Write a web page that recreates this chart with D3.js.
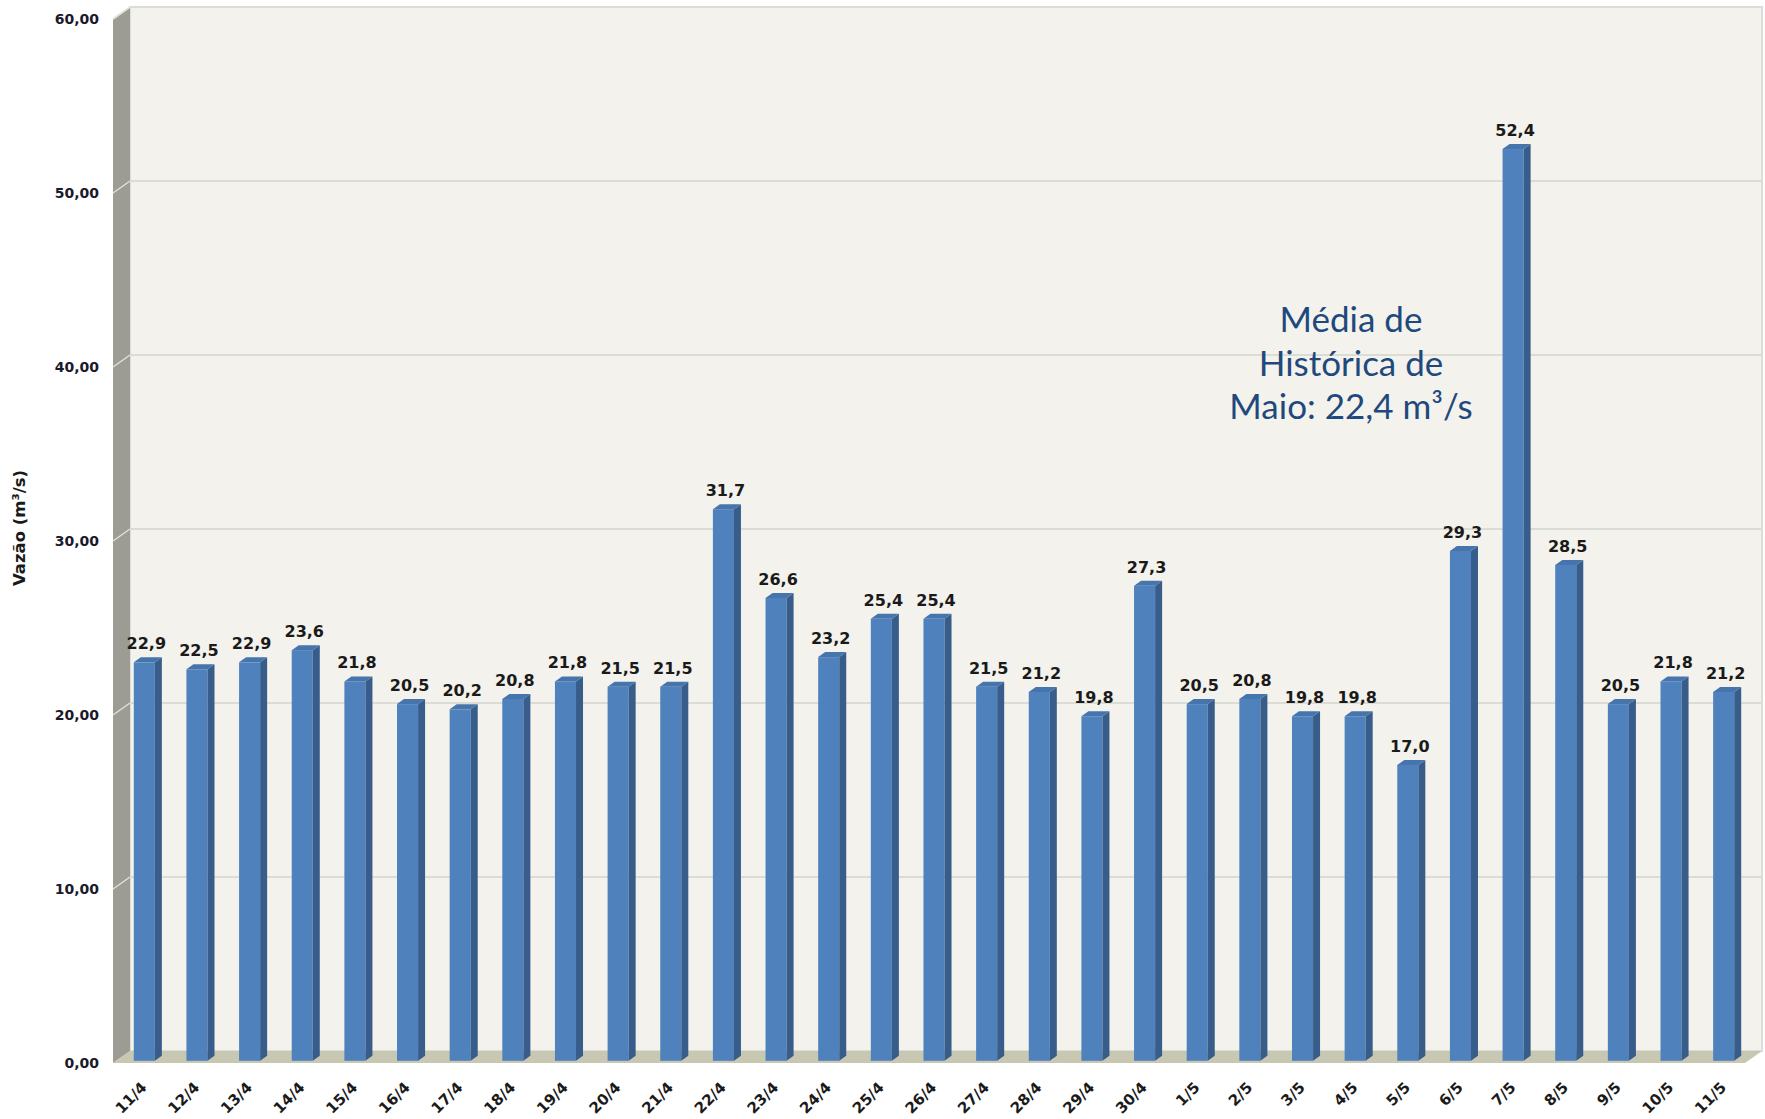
<!DOCTYPE html>
<html><head><meta charset="utf-8">
<script src="https://cdn.jsdelivr.net/npm/d3@7"></script>
<style>
html,body{margin:0;padding:0;background:#fff;}
svg{display:block;}
</style></head>
<body>
<svg id="chart" width="1765" height="1119"></svg>
<script>
const categories = ["11/4","12/4","13/4","14/4","15/4","16/4","17/4","18/4","19/4","20/4","21/4","22/4","23/4","24/4","25/4","26/4","27/4","28/4","29/4","30/4","1/5","2/5","3/5","4/5","5/5","6/5","7/5","8/5","9/5","10/5","11/5"];
const vazao = [22.9,22.5,22.9,23.6,21.8,20.5,20.2,20.8,21.8,21.5,21.5,31.7,26.6,23.2,25.4,25.4,21.5,21.2,19.8,27.3,20.5,20.8,19.8,19.8,17.0,29.3,52.4,28.5,20.5,21.8,21.2];
const yTicks = [0,10,20,30,40,50,60];
const yTitle = "Vazão (m³/s)";
const noteLines = ["Média de","Histórica de","Maio: 22,4 m³/s"];

const svg = d3.select("#chart");
const x0 = 113, x1 = 1745, yB = 1063, yT = 19;
const DX = 17, DY = -12;

const y = d3.scaleLinear().domain([0,60]).range([yB, yT]);
const x = d3.scaleBand().domain(categories).range([x0, x1]).paddingInner(0.6).paddingOuter(0.3);
const comma = f => v => d3.format(f)(v).replace(".", ",");

// back wall
svg.append("rect").attr("x", x0+DX).attr("y", y(60)+DY).attr("width", x1-x0).attr("height", y(0)-y(60))
  .attr("fill", "#f3f2ec").attr("stroke", "#dcdcd8").attr("stroke-width", 2);
// back gridlines
svg.append("g").selectAll("line").data(yTicks.filter(t => t>0 && t<60)).join("line")
  .attr("x1", x0+DX).attr("x2", x1+DX).attr("y1", d => y(d)+DY).attr("y2", d => y(d)+DY)
  .attr("stroke", "#dcdcd6").attr("stroke-width", 2);
// side wall
svg.append("path").attr("d", `M${x0},${y(60)} L${x0+DX},${y(60)+DY} L${x0+DX},${y(0)+DY} L${x0},${y(0)} Z`)
  .attr("fill", "#9c9c94");
svg.append("line").attr("x1", x0).attr("y1", y(60)).attr("x2", x0+DX).attr("y2", y(60)+DY)
  .attr("stroke", "#e2e2de").attr("stroke-width", 2);
svg.append("g").selectAll("line").data(yTicks.filter(t => t>0 && t<60)).join("line")
  .attr("x1", x0).attr("x2", x0+DX).attr("y1", d => y(d)).attr("y2", d => y(d)+DY)
  .attr("stroke", "#e0e0dc").attr("stroke-width", 1.5);
// floor
svg.append("path").attr("d", `M${x0},${y(0)} L${x1},${y(0)} L${x1+DX},${y(0)+DY} L${x0+DX},${y(0)+DY} Z`)
  .attr("fill", "#c8c7b2");

// bars
const bx = 5, by = -2.2, sdx = 7, sdy = -5;
const bw = x.bandwidth();
const bars = svg.append("g").selectAll("g").data(categories.map((c,i) => ({c, v: vazao[i]}))).join("g");
bars.append("rect")
  .attr("x", d => x(d.c)+bx).attr("y", d => y(d.v)+by).attr("width", bw).attr("height", d => y(0)-y(d.v))
  .attr("fill", "#4f81bd");
bars.append("path")
  .attr("d", d => { const L = x(d.c)+bx+bw, T = y(d.v)+by, B = y(0)+by;
    return `M${L},${T} L${L+sdx},${T+sdy} L${L+sdx},${B+sdy} L${L},${B} Z`; })
  .attr("fill", "#385d8a");
bars.append("path")
  .attr("d", d => { const L = x(d.c)+bx, T = y(d.v)+by;
    return `M${L},${T} L${L+sdx},${T+sdy} L${L+bw+sdx},${T+sdy} L${L+bw},${T} Z`; })
  .attr("fill", "#4675ad");
bars.append("text")
  .attr("x", d => x(d.c)+bx+bw/2+2).attr("y", d => y(d.v)+by-13)
  .attr("text-anchor", "middle")
  .attr("font-family", "DejaVu Sans").attr("font-weight", "bold").attr("font-size", 16)
  .attr("fill", "#1a1a1a")
  .text(d => comma(".1f")(d.v));

// y axis
const yAxis = svg.append("g").attr("transform", `translate(${x0-14},0)`)
  .call(d3.axisLeft(y).tickValues(yTicks).tickSize(0).tickPadding(0).tickFormat(comma(".2f")));
yAxis.select(".domain").remove();
yAxis.selectAll("text").attr("font-family", "DejaVu Sans").attr("font-weight", "bold")
  .attr("font-size", 14).attr("fill", "#1a1a2a");

// x axis
const xAxis = svg.append("g").attr("transform", `translate(0,${yB})`)
  .call(d3.axisBottom(x).tickSize(0).tickPadding(0));
xAxis.select(".domain").remove();
xAxis.selectAll("text")
  .attr("font-family", "DejaVu Sans").attr("font-weight", "bold").attr("font-size", 15).attr("fill", "#1a1a1a")
  .attr("text-anchor", "end").attr("y", 0).attr("dy", "0.7em")
  .attr("transform", "translate(1,18) rotate(-45)");

// y title
svg.append("text").attr("transform", "translate(25,528) rotate(-90)")
  .attr("text-anchor", "middle")
  .attr("font-family", "DejaVu Sans").attr("font-weight", "bold").attr("font-size", 16.5).attr("fill", "#1a1a1a")
  .text(yTitle);

// annotation
const note = svg.append("text").attr("text-anchor", "middle")
  .attr("font-family", "Lato").attr("font-size", 35).attr("fill", "#1f497d");
const baselines = [332, 376, 419];
noteLines.forEach((t, i) => {
  note.append("tspan").attr("x", 1351).attr("y", baselines[i]).text(t);
});
</script>
</body></html>
